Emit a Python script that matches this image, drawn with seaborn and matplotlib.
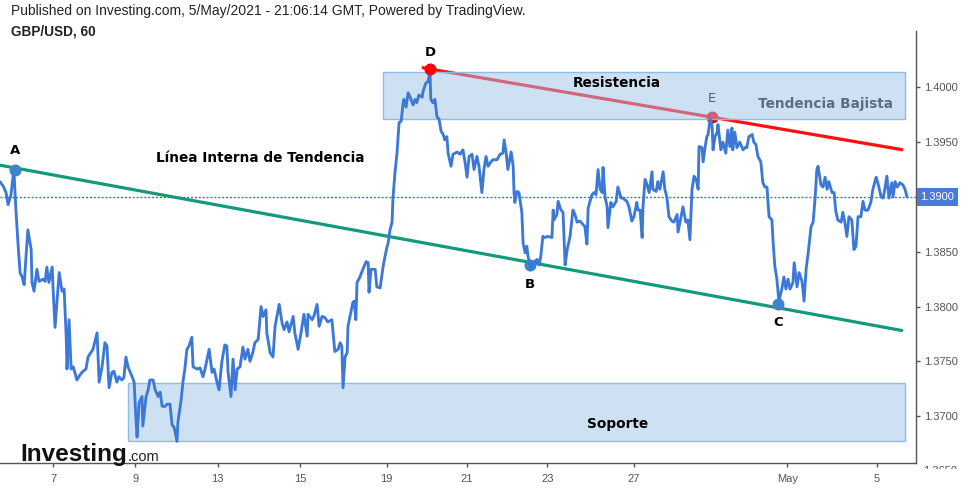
import matplotlib
matplotlib.use("Agg")
import matplotlib.pyplot as plt
import seaborn as sns
from matplotlib.patches import Rectangle
from matplotlib.transforms import Bbox, blended_transform_factory

sns.set_theme(style="white")
plt.rcParams['font.family'] = ['DejaVu Sans']

# ---------------- data (trading days since 7 Apr 2021, GBP/USD hourly close) ----------------
day = [-1.29,-1.21,-1.14,-1.09,-1.02,-0.95,-0.90,-0.85,-0.80,-0.75,-0.70,-0.66,-0.61,-0.53,-0.51,-0.46,-0.39,-0.34,-0.24,-0.19,-0.15,-0.10,-0.02,0.00,0.05,0.10,0.15,0.22,0.27,0.32,0.34,0.39,0.44,0.49,0.53,0.58,0.66,0.73,0.80,0.85,0.97,1.07,1.12,1.19,1.26,1.31,1.36,1.43,1.48,1.55,1.60,1.67,1.72,1.77,1.82,1.92,1.97,2.01,2.04,2.09,2.16,2.18,2.26,2.31,2.35,2.43,2.48,2.55,2.60,
       2.65,2.72,2.77,2.84,2.89,2.94,3.01,3.03,3.11,3.16,3.20,3.25,3.30,3.37,3.40,3.50,3.57,3.64,3.69,3.79,3.86,3.91,3.98,4.03,4.10,4.17,4.22,4.25,4.32,4.37,4.42,4.47,4.54,4.61,4.66,4.73,4.78,4.85,4.90,4.98,5.05,5.10,5.17,5.19,5.27,5.34,5.39,5.49,5.56,5.61,5.68,5.73,5.83,5.87,5.95,6.02,6.09,6.17,6.19,6.29,6.33,6.41,6.46,6.53,6.60,6.67,6.77,6.84,6.92,
       6.97,7.01,7.04,7.09,7.14,7.16,7.23,7.28,7.31,7.35,7.38,7.45,7.52,7.60,7.65,7.67,7.72,7.77,7.82,7.86,7.94,7.99,8.01,8.06,8.11,8.13,8.18,8.23,8.25,8.30,8.35,8.40,8.45,8.50,8.52,8.57,8.62,8.67,8.74,8.79,8.83,8.88,8.96,8.98,9.05,9.10,9.15,9.17,9.22,9.27,9.32,9.37,9.42,9.47,9.51,9.56,9.59,9.66,9.71,9.81,9.88,9.95,10.00,10.05,10.10,10.17,10.22,10.29,10.34,10.41,10.46,10.51,10.56,10.63,10.68,10.78,10.85,
       10.92,10.95,11.00,11.04,11.12,11.17,11.19,11.21,11.26,11.31,11.38,11.41,11.46,11.50,11.53,11.60,11.65,11.75,11.80,11.84,11.89,11.94,12.01,12.11,12.14,12.16,12.23,12.26,12.33,12.38,12.43,12.48,12.55,12.62,12.67,12.72,12.79,12.86,12.91,12.96,12.99,13.08,13.13,13.18,13.23,13.28,13.33,13.35,13.40,13.45,13.47,13.54,13.59,13.67,13.71,13.79,13.83,13.93,13.98,14.05,14.10,14.17,14.20,14.25,14.30,14.32,14.37,14.42,14.47,14.54,14.56,14.64,14.68,
       14.73,14.81,14.85,14.90,14.95,15.02,15.07,15.15,15.17,15.24,15.29,15.36,15.41,15.46,15.51,15.56,15.61,15.66,15.68,15.75,15.78,15.83,15.87,15.90,15.95,16.00,16.02,16.07,16.12,16.14,16.21,16.26,16.33,16.38,16.43,16.48,16.50,16.55,16.60,16.67,16.75,16.80,16.84,16.89,16.97,17.01,17.06,17.11,17.18,17.23,17.28,17.33,17.38,17.45,17.48,17.52,17.57,17.62,17.69,17.74,17.79,17.84,17.89,17.96,17.99,18.06,18.11,18.18,18.23,18.28,18.33,18.40,18.45,18.50,18.54,18.57,
       18.64,18.69,18.74,18.79,18.83,18.91,18.96,19.00,19.05,19.13,19.17,19.22,19.27,19.32,19.39,19.44,19.49,19.54,19.61,19.66,19.71,19.78,19.85,19.90,19.98,20.02,20.10,20.15,20.19,20.24,20.29,20.36,20.39,20.44,20.49,20.56,20.63,20.68,20.73]

close = [1.3914,1.3910,1.3904,1.3893,1.3902,1.3925,1.3888,1.3858,1.3831,1.3827,1.3820,1.3843,1.3870,1.3852,1.3822,1.3814,1.3834,1.3823,1.3825,1.3823,1.3836,1.3822,1.3836,1.3818,1.3781,1.3806,1.3831,1.3814,1.3816,1.3773,1.3743,1.3788,1.3743,1.3745,1.3740,1.3733,1.3738,1.3741,1.3743,1.3754,1.3761,1.3776,1.3731,1.3745,1.3767,1.3764,1.3726,1.3740,1.3741,1.3731,1.3736,1.3733,1.3735,1.3754,1.3745,1.3736,1.3731,1.3700,1.3681,1.3712,1.3718,1.3691,1.3718,1.3724,1.3733,1.3733,1.3724,1.3718,1.3722,
         1.3709,1.3709,1.3711,1.3711,1.3692,1.3690,1.3677,1.3694,1.3715,1.3733,1.3743,1.3761,1.3764,1.3772,1.3745,1.3743,1.3744,1.3736,1.3743,1.3761,1.3740,1.3743,1.3731,1.3724,1.3750,1.3765,1.3764,1.3740,1.3718,1.3752,1.3724,1.3743,1.3745,1.3763,1.3752,1.3761,1.3750,1.3758,1.3767,1.3770,1.3800,1.3791,1.3797,1.3776,1.3758,1.3754,1.3782,1.3802,1.3785,1.3779,1.3786,1.3777,1.3791,1.3776,1.3761,1.3776,1.3793,1.3773,1.3793,1.3788,1.3791,1.3802,1.3782,1.3791,1.3790,1.3786,1.3788,1.3759,1.3761,
         1.3767,1.3764,1.3726,1.3754,1.3758,1.3782,1.3795,1.3804,1.3805,1.3788,1.3822,1.3827,1.3834,1.3841,1.3840,1.3813,1.3834,1.3834,1.3834,1.3818,1.3817,1.3831,1.3836,1.3846,1.3855,1.3857,1.3870,1.3877,1.3898,1.3922,1.3940,1.3968,1.3969,1.3986,1.3989,1.3982,1.3995,1.3991,1.3984,1.3989,1.3986,1.3993,1.3991,1.3996,1.4004,1.4005,1.4014,1.3989,1.3986,1.3989,1.3973,1.3971,1.3960,1.3957,1.3952,1.3955,1.3940,1.3928,1.3939,1.3941,1.3939,1.3943,1.3932,1.3918,1.3937,1.3939,1.3925,1.3937,1.3928,1.3904,1.3925,1.3937,1.3928,1.3932,1.3934,1.3934,1.3939,
         1.3940,1.3952,1.3940,1.3925,1.3941,1.3928,1.3904,1.3895,1.3905,1.3904,1.3886,1.3858,1.3849,1.3855,1.3846,1.3834,1.3840,1.3843,1.3838,1.3846,1.3864,1.3863,1.3864,1.3863,1.3888,1.3879,1.3884,1.3896,1.3888,1.3886,1.3838,1.3852,1.3864,1.3888,1.3884,1.3877,1.3878,1.3875,1.3873,1.3857,1.3890,1.3902,1.3904,1.3902,1.3925,1.3907,1.3904,1.3927,1.3900,1.3891,1.3872,1.3895,1.3891,1.3896,1.3909,1.3899,1.3899,1.3896,1.3891,1.3878,1.3882,1.3895,1.3888,1.3888,1.3863,1.3891,1.3916,1.3911,1.3904,1.3923,1.3907,1.3905,1.3914,
         1.3907,1.3923,1.3907,1.3900,1.3882,1.3878,1.3877,1.3884,1.3868,1.3881,1.3891,1.3877,1.3879,1.3861,1.3907,1.3919,1.3916,1.3907,1.3946,1.3945,1.3932,1.3946,1.3955,1.3957,1.3971,1.3964,1.3943,1.3955,1.3959,1.3966,1.3943,1.3950,1.3940,1.3961,1.3946,1.3963,1.3943,1.3959,1.3945,1.3950,1.3943,1.3945,1.3945,1.3955,1.3957,1.3950,1.3948,1.3937,1.3932,1.3913,1.3909,1.3909,1.3882,1.3879,1.3858,1.3837,1.3825,1.3805,1.3816,1.3827,1.3816,1.3825,1.3816,1.3822,1.3840,1.3818,1.3831,1.3823,1.3805,1.3834,1.3849,1.3873,1.3877,1.3900,1.3925,1.3928,
         1.3911,1.3909,1.3918,1.3907,1.3914,1.3904,1.3904,1.3887,1.3879,1.3877,1.3886,1.3877,1.3864,1.3882,1.3879,1.3852,1.3855,1.3882,1.3882,1.3896,1.3888,1.3888,1.3895,1.3907,1.3918,1.3913,1.3900,1.3899,1.3907,1.3919,1.3899,1.3913,1.3900,1.3914,1.3909,1.3913,1.3911,1.3907,1.3900]

tick_days = [0, 2, 4, 6, 8.1, 10.05, 12, 14.1, 17.82, 20]
tick_labels = ['7', '9', '13', '15', '19', '21', '23', '27', 'May', '5']
price_ticks = [1.3700, 1.3750, 1.3800, 1.3850, 1.3900, 1.3950, 1.4000]
last_price = 1.3900

trend_days = [-1.29, 20.63]           # "Línea Interna de Tendencia"
trend_prices = [1.3929, 1.3778]
bear_days = [8.95, 20.63]             # "Tendencia Bajista"
bear_prices = [1.4018, 1.3943]
res_zone_days = [8.01, 20.68]
res_zone_prices = [1.3971, 1.4014]
sup_zone_days = [1.82, 20.68]
sup_zone_prices = [1.3677, 1.3730]

pivot_names = ['A', 'B', 'C', 'D', 'E']
pivot_days = [-0.92, 11.58, 17.60, 9.15, 16.00]
pivot_prices = [1.3925, 1.3838, 1.3802, 1.4017, 1.3973]

# ---------------- figure ----------------
W, H = 968, 496
fig = plt.figure(figsize=(W / 100, H / 100), dpi=100)
fig.patch.set_facecolor('white')
ax = fig.add_axes([0, 33 / H, 916 / W, 432 / H])
ax.set_facecolor('white')

sns.lineplot(x=day, y=close, ax=ax, color='#3c78d8', linewidth=2.05,
             sort=False, estimator=None, zorder=6)

ax.axhline(last_price, color='#2f66f0', lw=1.0, ls=(0, (1.4, 1.4)), zorder=2)

ax.plot(trend_days, trend_prices, color='#13997c', lw=2.3, zorder=3,
        solid_capstyle='butt')
ax.plot(bear_days, bear_prices, color='#ff0f0f', lw=2.3, zorder=3,
        solid_capstyle='butt')

for zd, zp in [(res_zone_days, res_zone_prices), (sup_zone_days, sup_zone_prices)]:
    ax.add_patch(Rectangle((zd[0], zp[0]), zd[1] - zd[0], zp[1] - zp[0],
                           facecolor=(0.62, 0.77, 0.91, 0.5),
                           edgecolor=(0.55, 0.72, 0.90, 0.95), lw=1, zorder=4))

pcolors = {'A': '#3d85c6', 'B': '#3d85c6', 'C': '#3d85c6', 'D': '#ff0000', 'E': '#ff0000'}
pz = {'A': 7, 'B': 5, 'C': 7, 'D': 7, 'E': 3}
poff = {'A': 14, 'B': -14, 'C': -13, 'D': 12, 'E': 13}
for n, d, p in zip(pivot_names, pivot_days, pivot_prices):
    ax.scatter([d], [p], s=75, color=pcolors[n], zorder=pz[n], linewidths=0)
    ax.annotate(n, (d, p), xytext=(0, poff[n]), textcoords='offset points',
                ha='center', va='center', fontsize=9.5,
                fontweight='bold' if n != 'E' else 'normal',
                color='black', zorder=3 if n == 'E' else 8)

ax.text(5.02, 1.39356, 'Línea Interna de Tendencia', ha='center', va='center',
        fontsize=9.8, fontweight='bold', color='black', zorder=8)
ax.text(13.69, 1.40040, 'Resistencia', ha='center', va='center',
        fontsize=9.8, fontweight='bold', color='black', zorder=8)
ax.text(18.74, 1.39850, 'Tendencia Bajista', ha='center', va='center',
        fontsize=9.8, fontweight='bold', color='#1a1a1a', zorder=3)
ax.text(13.71, 1.36929, 'Soporte', ha='center', va='center',
        fontsize=9.8, fontweight='bold', color='black', zorder=8)

# ---------------- axes styling ----------------
ax.set_xlim(-1.2864, 20.947)
ax.set_ylim(1.36573, 1.40514)
for s in ['top', 'left']:
    ax.spines[s].set_visible(False)
for s in ['right', 'bottom']:
    ax.spines[s].set_visible(True)
    ax.spines[s].set_color('#555555')
    ax.spines[s].set_linewidth(1.0)

ax.yaxis.tick_right()
ax.set_yticks(price_ticks)
ax.set_yticklabels(['' if abs(v - last_price) < 1e-9 else f'{v:.4f}' for v in price_ticks])
ax.tick_params(axis='y', which='both', right=True, left=False, direction='out',
               length=3, width=1, color='#555555', labelsize=8,
               labelcolor='#555555', pad=3)
for lbl in ax.get_yticklabels():
    lbl.set_family(['Liberation Sans', 'DejaVu Sans'])

ax.set_xticks(tick_days)
ax.set_xticklabels(tick_labels)
ax.tick_params(axis='x', which='both', bottom=True, direction='out', length=3,
               width=1, color='#555555', labelsize=8, labelcolor='#555555', pad=5)
for lbl in ax.get_xticklabels():
    lbl.set_family(['Liberation Sans', 'DejaVu Sans'])
ax.set_xlabel('')
ax.set_ylabel('')
ax.grid(False)

yblend = blended_transform_factory(ax.transAxes, ax.transData)
ax.annotate(f'{last_price:.4f}', xy=(1.0, last_price), xycoords=yblend,
            xytext=(3.2, 0), textcoords='offset points', ha='left', va='center',
            fontsize=8, color='white', family=['Liberation Sans', 'DejaVu Sans'],
            bbox=dict(boxstyle='square,pad=0.34', fc='#4a78dc', ec='none'),
            annotation_clip=False, zorder=10)

cut = ax.annotate('1.3650', xy=(1.0, 1.3650), xycoords=yblend,
                  xytext=(5.2, 0), textcoords='offset points', ha='left', va='center',
                  fontsize=8, color='#555555', family=['Liberation Sans', 'DejaVu Sans'],
                  annotation_clip=False)
cut.set_clip_on(True)
cut.set_clip_box(Bbox([[917, 27], [968, 470]]))

# ---------------- header & logo ----------------
fig.text(11 / W, 1 - 11 / H,
         'Published on Investing.com, 5/May/2021 - 21:06:14 GMT, Powered by TradingView.',
         ha='left', va='center', fontsize=10, color='#222222',
         family=['Liberation Sans', 'DejaVu Sans'])
fig.text(11 / W, 1 - 32 / H, 'GBP/USD, 60', ha='left', va='center', fontsize=9.8,
         fontweight='bold', color='#222222', family=['Liberation Sans', 'DejaVu Sans'])
logo = fig.text(20 / W, 1 - 461 / H, 'Investing', ha='left', va='baseline', fontsize=17.5,
                fontweight='heavy', color='#111111',
                family=['Liberation Sans', 'DejaVu Sans'])
fig.canvas.draw()
ext = logo.get_window_extent()
fig.text((ext.x1 + 0.5) / W, 1 - 461 / H, '.com', ha='left', va='baseline', fontsize=10.5,
         color='#222222', family=['Liberation Sans', 'DejaVu Sans'])

fig.savefig('out.png', dpi=100, facecolor='white')
